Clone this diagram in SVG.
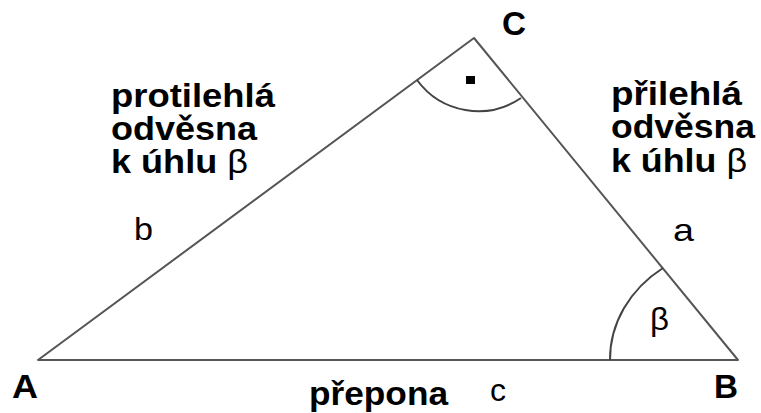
<svg xmlns="http://www.w3.org/2000/svg" width="761" height="413" viewBox="0 0 761 413">
<style>
.edge{fill:none;stroke:#555;stroke-width:2;stroke-linecap:round;stroke-linejoin:round}
.arc{fill:none;stroke:#444;stroke-width:2}
.lbl{font-family:"Liberation Sans",Arial,sans-serif;font-weight:bold;fill:#000;font-size:34px}
.txt{font-family:"Liberation Sans",Arial,sans-serif;font-weight:bold;fill:#000;font-size:34px}
.sym{font-family:"Liberation Sans",Arial,sans-serif;font-weight:normal;fill:#000;font-size:32px}
</style>
<rect width="761" height="413" fill="#fff"/>
<g id="connectors">
<path class="edge" d="M38 360 L738 360 L474 38 Z"/>
</g>
<g id="angle-C">
<path class="arc" d="M417 80 A76 76 0 0 0 521 98"/>
<rect x="466" y="76" width="9" height="8" fill="#000"/>
</g>
<g id="angle-B">
<path class="arc" d="M663 268 A128 113 0 0 0 610 360"/>
<text class="sym" x="650" y="330" textLength="19" lengthAdjust="spacingAndGlyphs">β</text>
</g>
<g id="vertex-A"><text class="lbl" x="12" y="398" textLength="26" lengthAdjust="spacingAndGlyphs">A</text></g>
<g id="vertex-B"><text class="lbl" x="714" y="398" textLength="24" lengthAdjust="spacingAndGlyphs">B</text></g>
<g id="vertex-C"><text class="lbl" x="502" y="35" textLength="24" lengthAdjust="spacingAndGlyphs">C</text></g>
<g id="side-b">
<text class="txt" x="111" y="107" textLength="164" lengthAdjust="spacingAndGlyphs">protilehlá</text>
<text class="txt" x="111" y="140" textLength="146" lengthAdjust="spacingAndGlyphs">odvěsna</text>
<text class="txt" x="111" y="173" textLength="137" lengthAdjust="spacingAndGlyphs">k úhlu <tspan font-weight="normal">β</tspan></text>
<text class="sym" x="134" y="240" textLength="19" lengthAdjust="spacingAndGlyphs">b</text>
</g>
<g id="side-a">
<text class="txt" x="611" y="105" textLength="131" lengthAdjust="spacingAndGlyphs">přilehlá</text>
<text class="txt" x="611" y="138" textLength="144" lengthAdjust="spacingAndGlyphs">odvěsna</text>
<text class="txt" x="611" y="172" textLength="136" lengthAdjust="spacingAndGlyphs">k úhlu <tspan font-weight="normal">β</tspan></text>
<text class="sym" x="673" y="241" textLength="21" lengthAdjust="spacingAndGlyphs">a</text>
</g>
<g id="side-c">
<text class="txt" x="309" y="405" textLength="139" lengthAdjust="spacingAndGlyphs">přepona</text>
<text class="sym" x="490" y="401" textLength="16" lengthAdjust="spacingAndGlyphs">c</text>
</g>
</svg>
